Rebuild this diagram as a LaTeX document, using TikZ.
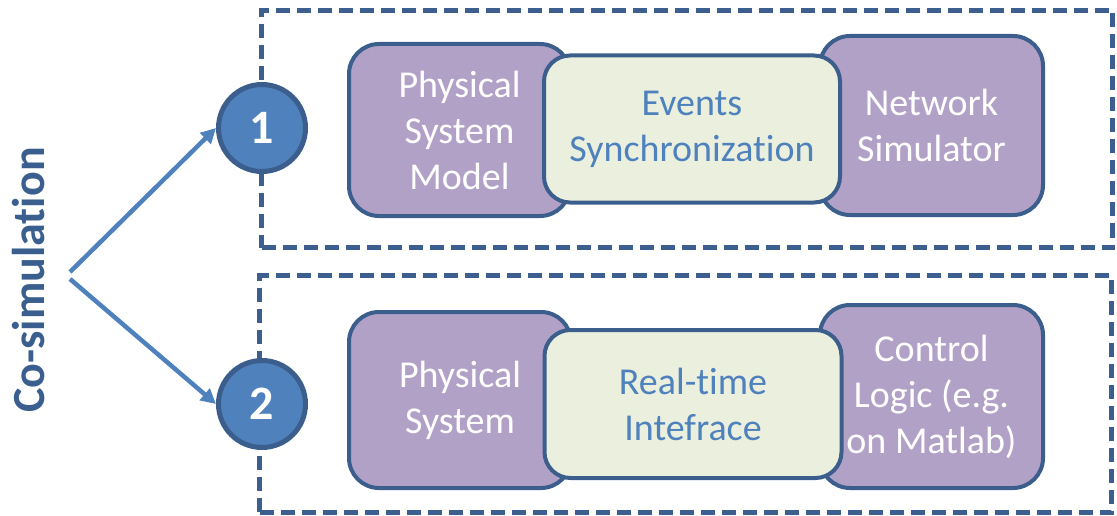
\documentclass[tikz,border=0pt]{standalone}
\usepackage{fontspec}
\setmainfont{Carlito}[Ligatures=NoCommon]
\usetikzlibrary{arrows.meta}
\definecolor{frameblue}{HTML}{3C5F8F}
\definecolor{circfill}{HTML}{4F81BD}
\definecolor{purplefill}{HTML}{B2A1C7}
\definecolor{greenfill}{HTML}{EBF0DE}
\definecolor{edgeblue}{HTML}{3B5E8C}
\definecolor{textblue}{HTML}{4F81BD}
\definecolor{titleblue}{HTML}{3A5F8F}
\begin{document}
\begin{tikzpicture}[x=1pt,y=-1pt,
  frame/.style={draw=frameblue, line width=5pt, dash pattern=on 14pt off 7pt, inner sep=0pt},
  boxbase/.style={draw=edgeblue, line width=4pt, align=center, inner sep=0pt,
    font=\fontsize{38}{46}\selectfont},
  purplebox/.style={boxbase, fill=purplefill, rounded corners=30pt, text=white},
  greenbox/.style={boxbase, fill=greenfill, rounded corners=26pt, text=textblue},
  numcirc/.style={circle, draw=edgeblue, fill=circfill, line width=5pt, minimum size=87pt,
    text=white, font=\fontsize{48}{48}\selectfont\bfseries, inner sep=0pt},
  link/.style={draw=circfill, line width=4.5pt, -{Triangle[length=15pt,width=15pt]}},
  title/.style={rotate=90, text=titleblue, font=\fontsize{46}{46}\selectfont\bfseries}
]
\useasboundingbox (0,0) rectangle (1117,516);

% frames
\node[frame, minimum width=851pt, minimum height=237pt] (f1) at (687,129) {};
\node[frame, minimum width=852pt, minimum height=237pt] (f2) at (685.5,394) {};

% circles
\node[numcirc] (c1) at (262,128) {1};
\node[numcirc] (c2) at (262,404) {2};

% row 1
\node[purplebox, minimum width=221pt, minimum height=172pt] (psm) at (459.5,130) {Physical\\System\\Model};
\node[purplebox, minimum width=223pt, minimum height=179pt] (ns) at (931.5,125.5) {Network\\Simulator};
\node[greenbox, minimum width=296pt, minimum height=147pt] (es) at (692,129) {Events\\Synchronization};

% row 2
\node[purplebox, minimum width=222pt, minimum height=176pt] (ps) at (460,400) {Physical\\System};
\node[purplebox, minimum width=223pt, minimum height=183pt] (cl) at (931.5,396.5) {Control\\Logic (e.g.\\on Matlab)};
\node[greenbox, minimum width=297pt, minimum height=148pt] (rt) at (693,404) {Real-time\\Intefrace};

% title and arrows
\node[title] (t) at (29,280) {Co-simulation};
\coordinate (s1) at (70,272);
\coordinate (s2) at (70,279);
\draw[link] (s1) -- (c1.west);
\draw[link] (s2) -- (c2.west);
\end{tikzpicture}
\end{document}
